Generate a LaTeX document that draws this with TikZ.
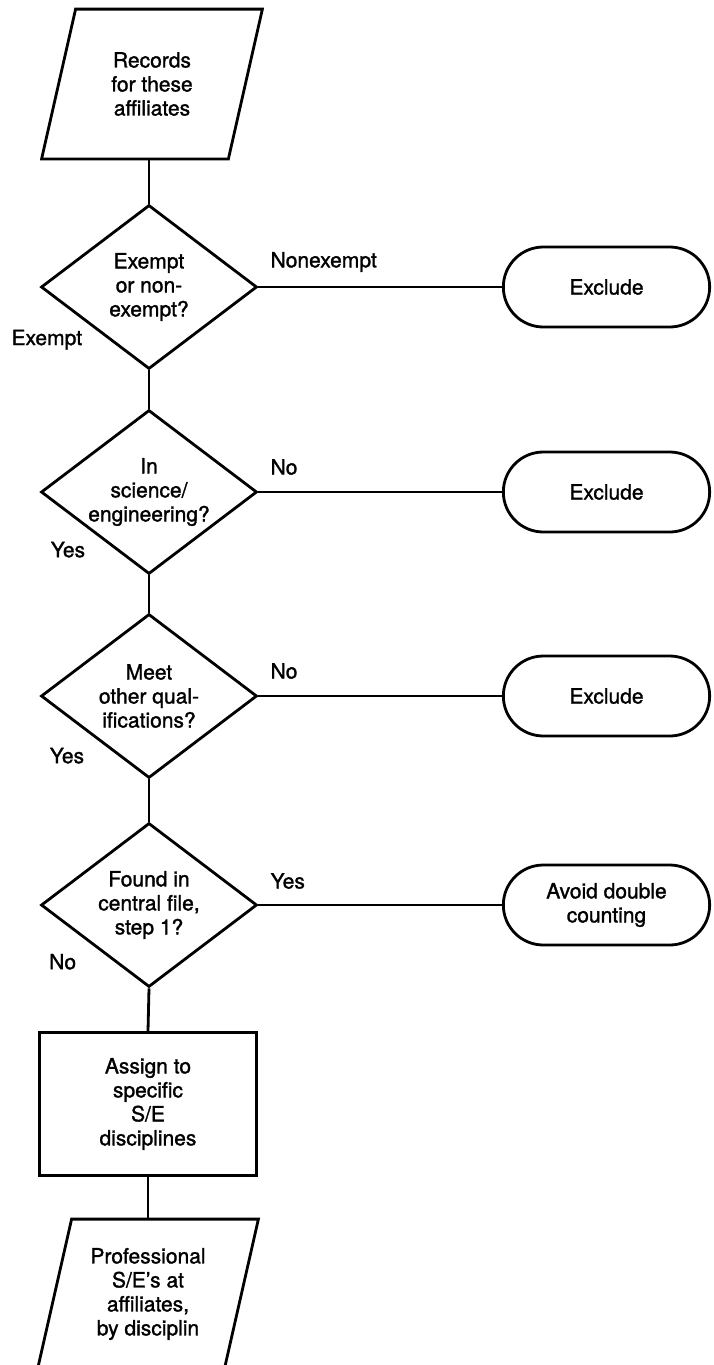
\documentclass[tikz,border=0pt]{standalone}
\usepackage{fontspec}
\setmainfont{TeX Gyre Heros}[AutoFakeBold=1.4]
\usetikzlibrary{shapes.geometric,shapes.misc,calc}
\tikzset{
  flow/.style     = {draw, line width=2.8pt, align=center,
                     font=\fontsize{21}{24}\selectfont\bfseries},
  decision/.style = {flow, diamond, inner sep=0pt, shape aspect=1.32,
                     minimum width=216pt, minimum height=164pt},
  terminal/.style = {flow, rounded rectangle, minimum width=213pt,
                     minimum height=80pt},
  process/.style  = {flow, rectangle, minimum width=217pt, minimum height=143pt},
  inout/.style    = {flow, draw=none, minimum width=218pt,
                     minimum height=147pt}, % outline drawn slanted below
  answer/.style   = {font=\fontsize{21}{24}\selectfont\bfseries, inner sep=0pt},
  link/.style     = {line width=2.8pt}
}
\newcommand\slantbox[1]{% parallelogram round an inout node
  \draw[link] ($(#1.north west)+(34,0)$) -- (#1.north east)
    -- ($(#1.south east)-(34,0)$) -- (#1.south west) -- cycle;}

\begin{document}
\begin{tikzpicture}[x=1pt, y=-1pt]
\useasboundingbox (0,0) rectangle (714,1365);
\node[inout] (rec) at (152,84) {Records\\for these\\affiliates};
\node[decision] (q1) at (149,287) {Exempt\\or non-\\exempt?};
\node[decision] (q2) at (149,492) {In\\science/\\engineering?};
\node[decision] (q3) at (149,696) {Meet\\other qual-\\ifications?};
\node[decision] (q4) at (149,905) {Found in\\central file,\\step 1?};
\node[process]  (asg) at (148,1104) {Assign to\\specific\\S/E\\disciplines};
\node[inout]    (res) at (148,1294) {Professional\\S/E's at\\affiliates,\\by disciplin};
\node[terminal] (x1) at (606.5,287) {Exclude};
\node[terminal] (x2) at (606.5,492) {Exclude};
\node[terminal] (x3) at (606.5,696) {Exclude};
\node[terminal] (x4) at (606.5,905) {Avoid double\\counting};
\slantbox{rec}
\slantbox{res}
% main line down
\draw[link] (q1.north |- rec.south) -- (q1.north);
\draw[link] (q1.south) -- (q2.north);
\draw[link] (q2.south) -- (q3.north);
\draw[link] (q3.south) -- (q4.north);
\draw[link] (q4.south) -- (asg.north);
\draw[link] (asg.south) -- (res.north);
% side exits
\draw[link] (q1.east) -- (x1.west);
\draw[link] (q2.east) -- (x2.west);
\draw[link] (q3.east) -- (x3.west);
\draw[link] (q4.east) -- (x4.west);
% branch labels
\node[answer, anchor=west] (n1) at ($(q1.east)+(12,-25)$) {Nonexempt};
\node[answer, anchor=west] (n2) at ($(q2.east)+(12,-25)$) {No};
\node[answer, anchor=west] (n3) at ($(q3.east)+(12,-25)$) {No};
\node[answer, anchor=west] (n4) at ($(q4.east)+(12,-24)$) {Yes};
\node[answer, anchor=east] (y1) at ($(q1.south west)+(-12,11)$) {Exempt};
\node[answer, anchor=east] (y2) at ($(q2.south west)+(-9,16)$) {Yes};
\node[answer, anchor=east] (y3) at ($(q3.south west)+(-10,18)$) {Yes};
\node[answer, anchor=east] (y4) at ($(q4.south west)+(-18,15)$) {No};
\end{tikzpicture}
\end{document}
